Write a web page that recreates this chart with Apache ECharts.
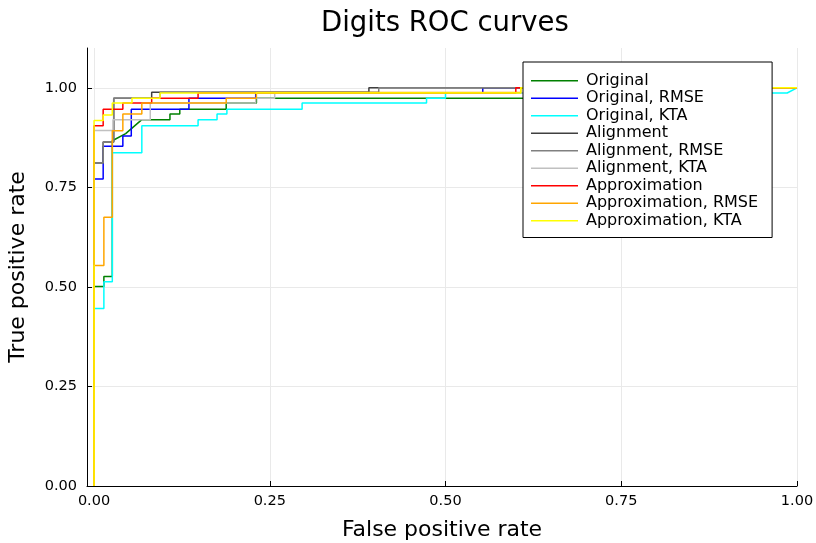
<!DOCTYPE html>
<html>
<head>
<meta charset="utf-8">
<script src="https://cdn.jsdelivr.net/npm/echarts@6/dist/echarts.min.js"></script>
<style>html,body{margin:0;padding:0;background:#fff;}#c{width:816px;height:543px;}</style>
</head>
<body>
<div id="c"></div>
<script>
// ROC curve vertices [false positive rate, true positive rate]
const original = [[0,0],[0,0.501],[0.014,0.501],[0.014,0.526],[0.026,0.526],[0.026,0.867],[0.045,0.885],[0.068,0.92],[0.108,0.92],[0.108,0.934],[0.122,0.934],[0.122,0.946],[0.188,0.946],[0.188,0.962],[0.231,0.962],[0.231,0.974],[0.70,0.974],[0.70,0.987],[0.90,0.987],[0.90,1.0],[1.0,1.0]];
const originalRMSE = [[0,0],[0,0.771],[0.013,0.771],[0.013,0.853],[0.041,0.853],[0.041,0.879],[0.053,0.879],[0.053,0.946],[0.135,0.946],[0.135,0.974],[0.23,0.974],[0.23,0.987],[0.553,0.987],[0.553,1.0],[1.0,1.0]];
const originalKTA = [[0,0],[0,0.446],[0.014,0.446],[0.014,0.513],[0.026,0.513],[0.026,0.837],[0.068,0.837],[0.068,0.905],[0.148,0.905],[0.148,0.92],[0.175,0.92],[0.175,0.934],[0.189,0.934],[0.189,0.946],[0.296,0.946],[0.296,0.962],[0.473,0.962],[0.473,0.974],[0.50,0.974],[0.50,0.987],[0.986,0.987],[1.0,1.0]];
const alignment = [[0,0],[0,0.811],[0.013,0.811],[0.013,0.864],[0.028,0.864],[0.028,0.974],[0.082,0.974],[0.082,0.989],[0.391,0.989],[0.391,1.0],[1.0,1.0]];
const alignmentRMSE = [[0,0],[0,0.811],[0.013,0.811],[0.013,0.864],[0.028,0.864],[0.028,0.974],[0.094,0.974],[0.094,0.989],[0.405,0.989],[0.405,1.0],[1.0,1.0]];
const alignmentKTA = [[0,0],[0,0.893],[0.027,0.893],[0.027,0.92],[0.080,0.92],[0.080,0.962],[0.23,0.962],[0.23,0.974],[0.257,0.974],[0.257,0.987],[0.62,0.987],[0.62,1.0],[1.0,1.0]];
const approximation = [[0,0],[0,0.905],[0.013,0.905],[0.013,0.946],[0.041,0.946],[0.041,0.962],[0.082,0.962],[0.082,0.974],[0.148,0.974],[0.148,0.987],[0.60,0.987],[0.60,1.0],[1.0,1.0]];
const approximationRMSE = [[0,0],[0,0.554],[0.014,0.554],[0.014,0.675],[0.026,0.675],[0.026,0.892],[0.041,0.892],[0.041,0.934],[0.068,0.934],[0.068,0.962],[0.188,0.962],[0.188,0.974],[0.231,0.974],[0.231,0.988],[0.607,0.988],[0.607,1.0],[1.0,1.0]];
const approximationKTA = [[0,0],[0,0.918],[0.013,0.918],[0.013,0.932],[0.026,0.932],[0.026,0.962],[0.054,0.962],[0.054,0.974],[0.094,0.974],[0.094,0.987],[0.607,0.987],[0.607,1.0],[1.0,1.0]];

const seriesNames = ['Original','Original, RMSE','Original, KTA','Alignment','Alignment, RMSE','Alignment, KTA','Approximation','Approximation, RMSE','Approximation, KTA'];
const seriesData = [original, originalRMSE, originalKTA, alignment, alignmentRMSE, alignmentKTA, approximation, approximationRMSE, approximationKTA];
const seriesColors = ['#008000','#0000ff','#00ffff','#404040','#808080','#c0c0c0','#ff0000','#ffa500','#ffff00'];
const tickValues = [0, 0.25, 0.5, 0.75, 1.0];

const font = 'DejaVu Sans';
const chart = echarts.init(document.getElementById('c'));
chart.setOption({
  animation: false,
  backgroundColor: '#fff',
  color: seriesColors,
  title: {
    text: 'Digits ROC curves',
    left: 316, top: 5,
    textStyle: {fontFamily: font, fontSize: 27.5, fontWeight: 'normal', color: '#000'}
  },
  grid: {left: 87, right: 19, top: 48, bottom: 57, containLabel: false, outerBoundsMode: 'none'},
  legend: {
    orient: 'vertical',
    left: 523, top: 62,
    icon: 'rect',
    itemWidth: 47, itemHeight: 1.5,
    itemGap: 0,
    itemStyle: {borderWidth: 0},
    padding: [10, 14, 8, 8],
    backgroundColor: '#fff',
    borderColor: '#000',
    borderWidth: 1,
    textStyle: {fontFamily: font, fontSize: 16, color: '#000', lineHeight: 17.5, padding: [0, 0, 0, 3]},
    data: seriesNames
  },
  xAxis: {
    type: 'value', min: -0.01, max: 1.0,
    name: 'False positive rate', nameLocation: 'middle', nameGap: 33,
    nameTextStyle: {fontFamily: font, fontSize: 22, color: '#000'},
    axisLine: {show: true, onZero: false, lineStyle: {color: '#000', width: 1}},
    axisTick: {show: true, inside: true, length: 5, customValues: tickValues, lineStyle: {color: '#000'}},
    axisLabel: {customValues: tickValues, fontFamily: font, fontSize: 14.5, color: '#000', margin: 8, formatter: v => v.toFixed(2)},
    splitLine: {show: true, lineStyle: {color: '#e9e9e9', width: 1}}
  },
  yAxis: {
    type: 'value', min: 0, max: 1.1,
    name: 'True positive rate', nameLocation: 'middle', nameGap: 58,
    nameTextStyle: {fontFamily: font, fontSize: 22, color: '#000'},
    axisLine: {show: true, onZero: false, lineStyle: {color: '#000', width: 1}},
    axisTick: {show: true, inside: true, length: 5, customValues: tickValues, lineStyle: {color: '#000'}},
    axisLabel: {customValues: tickValues, fontFamily: font, fontSize: 14.5, color: '#000', margin: 10, formatter: v => v.toFixed(2)},
    splitLine: {show: true, lineStyle: {color: '#e9e9e9', width: 1}}
  },
  series: seriesNames.map((n, i) => ({
    name: n, type: 'line', data: seriesData[i],
    showSymbol: false, symbol: 'none',
    lineStyle: {width: 1.5, color: seriesColors[i]},
    itemStyle: {color: seriesColors[i]},
    emphasis: {disabled: true}
  }))
});
</script>
</body>
</html>
